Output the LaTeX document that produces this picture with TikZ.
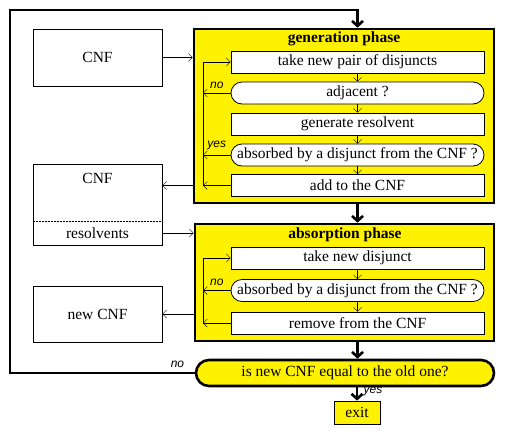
\documentclass[tikz,border=0pt]{standalone}
\usepackage{fontspec}
\setmainfont{Liberation Serif}
\newfontfamily\labfont{Liberation Sans}
\usetikzlibrary{arrows.meta}
\begin{document}
\begin{tikzpicture}[x=1pt, y=-1pt, font=\fontsize{15.5}{17}\selectfont,
  >={Straight Barb[length=4pt,width=8pt]},
  box/.style={draw, fill=white, line width=0.8pt, minimum width=253pt, minimum height=22pt, inner sep=0pt},
  oval/.style={box, rounded corners=11pt},
  phase/.style={draw, fill=yellow, line width=2.6pt, inner sep=0pt},
  store/.style={draw, line width=0.8pt, minimum width=129pt, inner sep=0pt},
  title/.style={font=\bfseries\fontsize{15.5}{17}\selectfont},
  flow/.style={line width=2.6pt, -{Straight Barb[length=5pt,width=11pt]}},
  lab/.style={font=\labfont\itshape\fontsize{12}{14}\selectfont}]
\useasboundingbox (0,0) rectangle (510,434);
% stores on the left
\node[store, minimum height=57pt] (cnfa) at (97.5,57.5) {CNF};
\node[store, minimum height=81pt] (cnfb) at (97.5,204.5) {};
\node (cnfbt) at (97.5,178) {CNF};
\node (res) at (97.5,233) {resolvents};
\draw[line width=0.8pt, dash pattern=on 2pt off 1pt] ([yshift=-16.5pt]cnfb.west) -- ([yshift=-16.5pt]cnfb.east);
\node[store, minimum height=56pt] (newcnf) at (97.5,314) {new CNF};
% generation phase
\node[phase, minimum width=300pt, minimum height=174pt] (gen) at (344,116) {};
\node[title] (gent) at (344,39) {generation phase};
\node[box] (g1) at (357.5,62) {take new pair of disjuncts};
\node[oval] (g2) at (357.5,93) {adjacent ?};
\node[box] (g3) at (357.5,124) {generate resolvent};
\node[oval] (g4) at (357.5,155) {absorbed by a disjunct from the CNF ?};
\node[box] (g5) at (357.5,185.5) {add to the CNF};
\foreach \a/\b in {g1/g2,g2/g3,g3/g4,g4/g5} \draw[->] (\a) -- (\b);
\coordinate (gl) at (203,0);
\draw[->] (g2.west) -- (g2.west -| gl) node[lab, midway, above, yshift=1pt]{no};
\draw[->] (g4.west) -- (g4.west -| gl) node[lab, midway, above, yshift=1pt]{yes};
\draw[->] (g5.west) -- (g5.west -| gl);
\draw[->] (g5.west -| gl) -- (g1.west -| gl) -- (g1.west);
% absorption phase
\node[phase, minimum width=299pt, minimum height=117pt] (abs) at (344.5,282.5) {};
\node[title] (abst) at (345,235) {absorption phase};
\node[box] (a1) at (357.5,258) {take new disjunct};
\node[oval] (a2) at (357.5,290.5) {absorbed by a disjunct from the CNF ?};
\node[box] (a3) at (357.5,323) {remove from the CNF};
\foreach \a/\b in {a1/a2,a2/a3} \draw[->] (\a) -- (\b);
\draw[->] (a2.west) -- (a2.west -| gl) node[lab, midway, above, yshift=1pt]{no};
\draw[->] (a3.west) -- (a3.west -| gl);
\draw[->] (a3.west -| gl) -- (a1.west -| gl) -- (a1.west);
% test and exit
\node[phase, rounded corners=13pt, minimum width=298pt, minimum height=26pt] (dec) at (345,373) {is new CNF equal to the old one?};
\node[draw, fill=yellow, line width=0.8pt, minimum width=46pt, minimum height=23pt, inner sep=0pt] (exit) at (357,412.5) {exit};
% data arrows
\draw[->] (cnfa) -- (cnfa -| gen.west);
\draw[->] (g5 -| gen.west) -- (g5 -| cnfb.east);
\draw[->] (res -| cnfb.east) -- (res -| abs.west);
\draw[->] (newcnf -| abs.west) -- (newcnf.east);
% main flow
\coordinate (back) at (10,10);
\draw[flow] (dec.west) -| (back) -| (g1.north |- gen.north);
\node[lab, anchor=south east] at ([xshift=-7pt,yshift=2pt]dec.west) {no};
\draw[flow] (gen.south -| g1) -- (abs.north -| g1);
\draw[flow] (abs.south -| a1) -- (dec.north -| a1);
\draw[flow] (dec.south -| exit) -- (exit.north) node[lab, midway, right, xshift=2pt, yshift=2pt]{yes};
\end{tikzpicture}
\end{document}
